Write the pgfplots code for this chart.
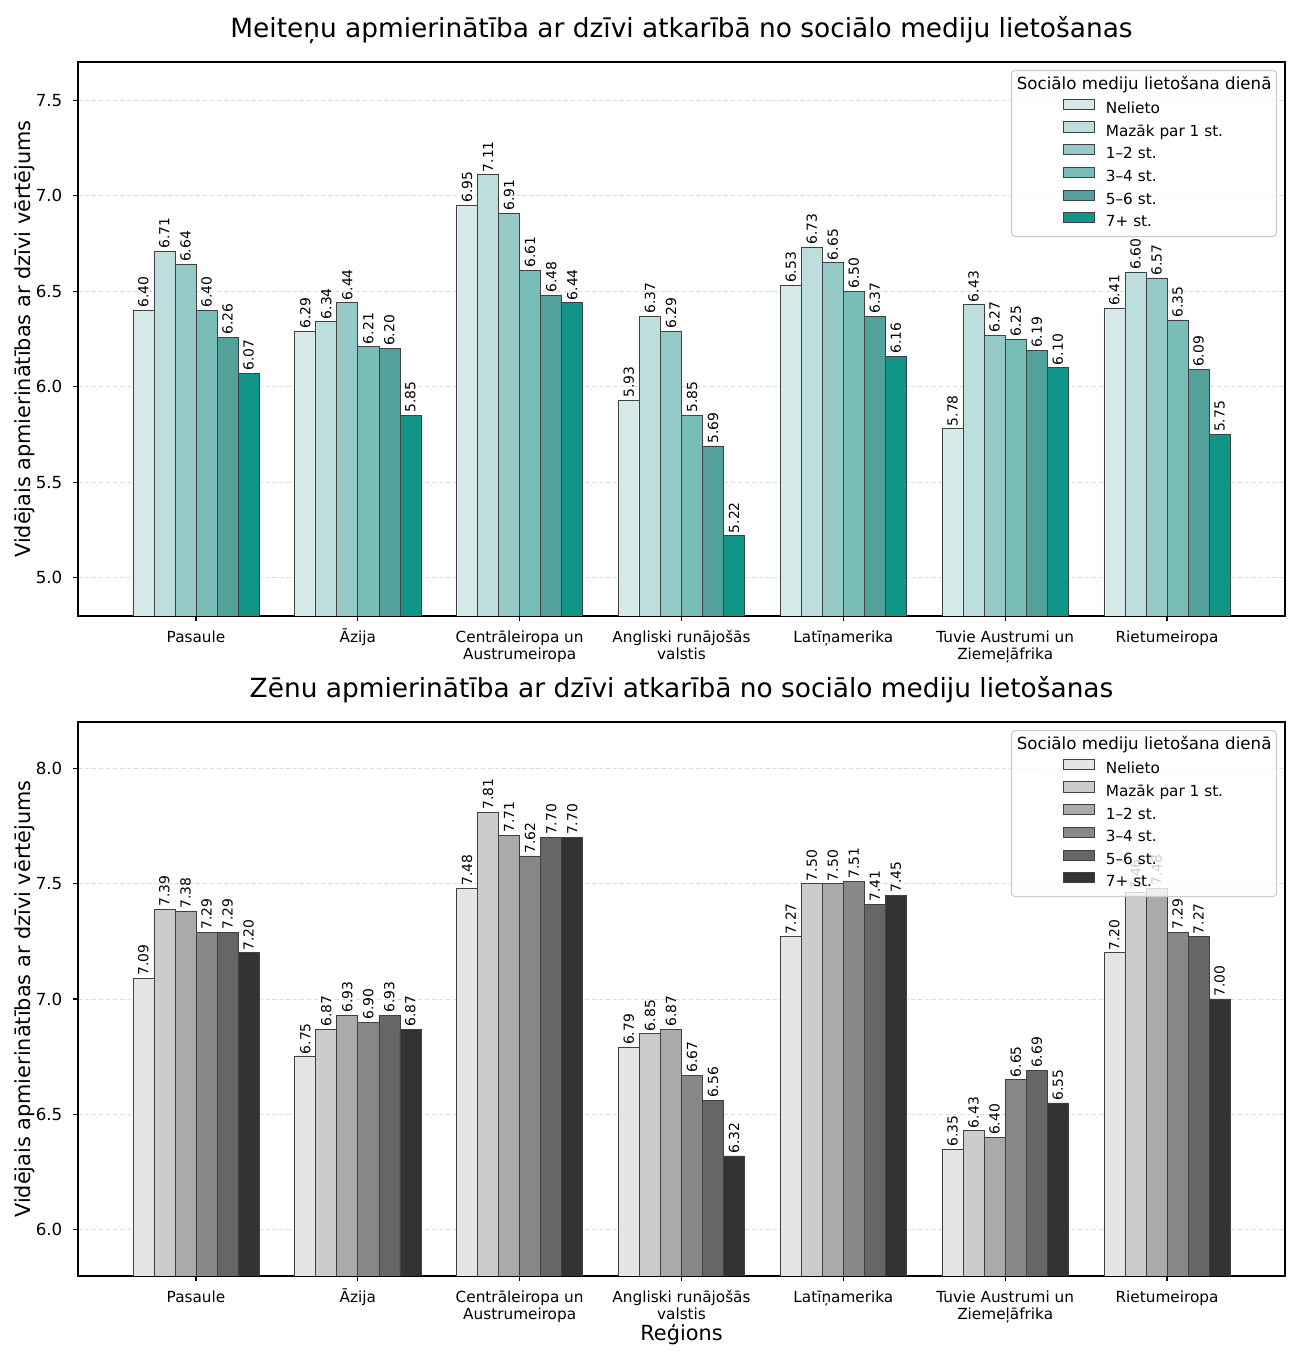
\documentclass[border=0pt]{standalone}
\usepackage{fontspec}
\setmainfont{DejaVu Sans}
\usepackage{pgfplots}
\usepackage{pgfplotstable}
\pgfplotsset{compat=1.18}

\definecolor{t0}{HTML}{D6EBE9}
\definecolor{t1}{HTML}{BCDFDD}
\definecolor{t2}{HTML}{96CAC6}
\definecolor{t3}{HTML}{79BDB8}
\definecolor{t4}{HTML}{52A29B}
\definecolor{t5}{HTML}{0F9688}
\definecolor{g0}{HTML}{E5E5E5}
\definecolor{g1}{HTML}{CCCCCC}
\definecolor{g2}{HTML}{AAAAAA}
\definecolor{g3}{HTML}{888888}
\definecolor{g4}{HTML}{666666}
\definecolor{g5}{HTML}{333333}
\definecolor{edgec}{HTML}{404040}
\definecolor{gridc}{HTML}{DDDDDD}
\definecolor{legframe}{HTML}{CCCCCC}

\pgfplotstableread{
x n m a b c d
0 6.40 6.71 6.64 6.40 6.26 6.07
1 6.29 6.34 6.44 6.21 6.20 5.85
2 6.95 7.11 6.91 6.61 6.48 6.44
3 5.93 6.37 6.29 5.85 5.69 5.22
4 6.53 6.73 6.65 6.50 6.37 6.16
5 5.78 6.43 6.27 6.25 6.19 6.10
6 6.41 6.60 6.57 6.35 6.09 5.75
}\girls

\pgfplotstableread{
x n m a b c d
0 7.09 7.39 7.38 7.29 7.29 7.20
1 6.75 6.87 6.93 6.90 6.93 6.87
2 7.48 7.81 7.71 7.62 7.70 7.70
3 6.79 6.85 6.87 6.67 6.56 6.32
4 7.27 7.50 7.50 7.51 7.41 7.45
5 6.35 6.43 6.40 6.65 6.69 6.55
6 7.20 7.46 7.48 7.29 7.27 7.00
}\boys

\newcommand\mylab[2]{\vtop{\halign{\hfil##\hfil\cr #1\cr #2\cr}}}
\newcommand\ls{\rule[-2.6pt]{0pt}{9pt}}
\newcommand\legtitle{\fontsize{12}{14}\selectfont\hspace*{-64.08pt}Sociālo mediju lietošana dienā\rule[-3.2pt]{0pt}{10pt}}

\pgfplotsset{
  mybars/.style={
    scale only axis, width=869.04pt, height=398.88pt,
    anchor=south west,
    xmin=-0.729, xmax=6.729,
    ybar, bar width=0.13,
    xtick={0,1,2,3,4,5,6},
    xticklabels={Pasaule, Āzija, {\mylab{Centrāleiropa un}{Austrumeiropa}}, {\mylab{Angliski runājošās}{valstis}}, Latīņamerika, {\mylab{Tuvie Austrumi un}{Ziemeļāfrika}}, Rietumeiropa},
    /pgf/number format/assume math mode=true,
    yticklabel={\pgfmathprintnumber[fixed,fixed zerofill,precision=1]{\tick}},
    xticklabel style={font=\fontsize{11}{12}\selectfont, anchor=base, inner sep=0pt, yshift=-15.6pt},
    yticklabel style={font=\fontsize{12}{14}\selectfont, anchor=east, inner sep=0pt, xshift=-7.6pt},
    tick align=outside, major tick length=3.5pt,
    tick style={black, line width=0.8pt},
    xtick pos=bottom, ytick pos=left,
    axis line style={black, line width=0.8pt},
    ymajorgrids,
    grid style={gridc, line width=0.6pt, dash pattern=on 3pt off 2pt},
    nodes near coords={\pgfmathprintnumber[fixed,fixed zerofill,precision=2]{\pgfplotspointmeta}},
    every node near coord/.append style={rotate=90, anchor=west, font=\fontsize{10}{11}\selectfont, inner xsep=1.6pt, inner ysep=0pt, text=black},
    legend style={at={(1,1)}, anchor=north east, xshift=-5.76pt, yshift=-5.76pt,
      draw=legframe, line width=0.8pt, rounded corners=2.5pt, fill=white, fill opacity=0.8, text opacity=1, draw opacity=1,
      inner xsep=3.6pt, inner ysep=4.3pt, row sep=1.95pt, column sep=7.92pt,
      nodes={inner sep=0pt, text depth=, text height=},
      font=\fontsize{11}{13}\selectfont},
    legend cell align=left,
  },
  bb/.style 2 args={fill=#1, draw=edgec, line width=0.5pt, bar shift=#2,
    legend image code/.code={\path[draw=none, fill=none] (-33.84pt,-2.6pt) rectangle (22.32pt,9pt);
      \draw[##1, sharp corners, line width=0.5pt, fill opacity=1, draw opacity=1] (0pt,0.3pt) rectangle (22.32pt,7.6pt);}},
}

\begin{document}
\begin{tikzpicture}
\path (0,0) rectangle (936pt,974.16pt);

\begin{axis}[mybars, at={(56.16pt,530.64pt)},
  ymin=4.8, ymax=7.7, ytick={5,5.5,6,6.5,7,7.5}]
\addlegendimage{empty legend}\addlegendentry{\legtitle}
\addplot[bb={t0}{-0.325}] table[x=x,y=n]{\girls};\addlegendentry{Nelieto\ls}
\addplot[bb={t1}{-0.195}] table[x=x,y=m]{\girls};\addlegendentry{Mazāk par 1 st.\ls}
\addplot[bb={t2}{-0.065}] table[x=x,y=a]{\girls};\addlegendentry{1–2 st.\ls}
\addplot[bb={t3}{0.065}] table[x=x,y=b]{\girls};\addlegendentry{3–4 st.\ls}
\addplot[bb={t4}{0.195}] table[x=x,y=c]{\girls};\addlegendentry{5–6 st.\ls}
\addplot[bb={t5}{0.325}] table[x=x,y=d]{\girls};\addlegendentry{7+ st.\ls}
\end{axis}

\begin{axis}[mybars, at={(56.16pt,55.44pt)},
  ymin=5.8, ymax=8.2, ytick={6,6.5,7,7.5,8}]
\addlegendimage{empty legend}\addlegendentry{\legtitle}
\addplot[bb={g0}{-0.325}] table[x=x,y=n]{\boys};\addlegendentry{Nelieto\ls}
\addplot[bb={g1}{-0.195}] table[x=x,y=m]{\boys};\addlegendentry{Mazāk par 1 st.\ls}
\addplot[bb={g2}{-0.065}] table[x=x,y=a]{\boys};\addlegendentry{1–2 st.\ls}
\addplot[bb={g3}{0.065}] table[x=x,y=b]{\boys};\addlegendentry{3–4 st.\ls}
\addplot[bb={g4}{0.195}] table[x=x,y=c]{\boys};\addlegendentry{5–6 st.\ls}
\addplot[bb={g5}{0.325}] table[x=x,y=d]{\boys};\addlegendentry{7+ st.\ls}
\end{axis}

\node[anchor=base, font=\fontsize{19}{23}\selectfont] at (490.68pt,946.8pt) {Meiteņu apmierinātība ar dzīvi atkarībā no sociālo mediju lietošanas};
\node[anchor=base, font=\fontsize{19}{23}\selectfont] at (490.68pt,471.6pt) {Zēnu apmierinātība ar dzīvi atkarībā no sociālo mediju lietošanas};
\node[rotate=90, anchor=base, font=\fontsize{15}{18}\selectfont] at (21.6pt,730.08pt) {Vidējais apmierinātības ar dzīvi vērtējums};
\node[rotate=90, anchor=base, font=\fontsize{15}{18}\selectfont] at (21.6pt,254.88pt) {Vidējais apmierinātības ar dzīvi vērtējums};
\node[anchor=base, font=\fontsize{15}{18}\selectfont] at (490.68pt,9.36pt) {Reģions};
\end{tikzpicture}
\end{document}
